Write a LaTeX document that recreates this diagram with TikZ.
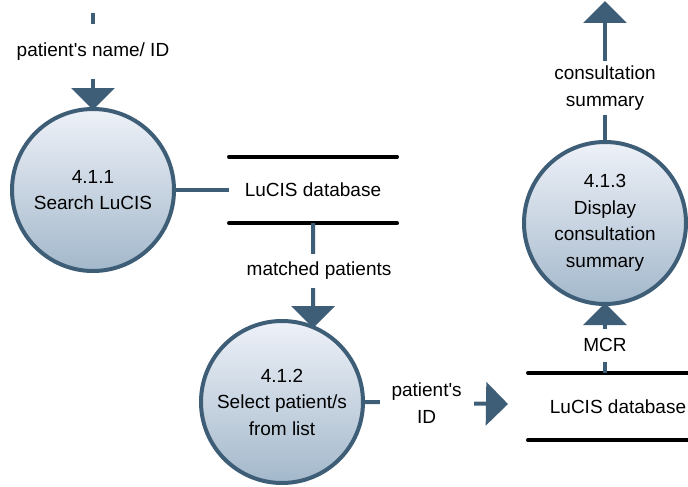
\documentclass[tikz,border=0pt]{standalone}
\usepackage{fontspec}
\setmainfont{Liberation Sans}
\usetikzlibrary{arrows.meta}

\definecolor{dfdline}{HTML}{3E5D76}
\definecolor{dfdtop}{HTML}{EEF1F8}
\definecolor{dfdbot}{HTML}{A3B8CB}

\begin{document}
\begin{tikzpicture}[x=1pt,y=-1pt,
    font=\fontsize{19}{26.5}\selectfont,
    process/.style={circle, draw=dfdline, line width=4pt, minimum size=162pt,
      top color=dfdtop, bottom color=dfdbot, align=center, inner sep=0pt},
    store/.style={minimum height=66pt, inner sep=0pt},
    storeline/.style={line width=3.5pt, line cap=round},
    flow/.style={draw=dfdline, line width=4pt, shorten >=-3pt,
      -{Triangle[width=43pt,length=22pt]}},
    link/.style={draw=dfdline, line width=4pt},
    flowlabel/.style={fill=white, align=center, inner xsep=12pt, inner ysep=8pt}
    ]

    \path[use as bounding box, clip] (0,0) rectangle (688,487);

    % processes
    \node[process] (p411) at (93,190) {4.1.1\\Search LuCIS};
    \node[process] (p412) at (282,402) {4.1.2\\Select patient/s\\from list};
    \node[process] (p413) at (605,223) {4.1.3\\Display\\consultation\\summary};

    % data stores
    \node[store, minimum width=168pt] (store1) at (313,190) {LuCIS database};
    \node[store, minimum width=180pt, minimum height=67pt] (store2) at (618,406.5) {LuCIS database};
    \foreach \s in {store1,store2}{
      \draw[storeline] (\s.north west) -- (\s.north east);
      \draw[storeline] (\s.south west) -- (\s.south east);
    }

    % free ends
    \coordinate (in) at (93,13);
    \coordinate (idend) at (505,404);
    \coordinate (out) at (605,4);

    % flows
    \draw[flow] (in) -- node[flowlabel, pos=0.41, inner ysep=19pt] {patient\textquotesingle s name/ ID} (p411.north);
    \draw[link] (p411.east) -- (store1.west);
    \draw[flow] (store1.south) -- node[flowlabel, pos=0.47, xshift=6pt] {matched patients} (p412.68);
    \draw[flow] (p412.east) -- node[flowlabel, pos=0.44, inner ysep=2pt] {patient\textquotesingle s\\ID} (idend);
    \draw[flow] (store2.north -| p413.south) -- node[flowlabel, pos=0.41, inner ysep=10pt] {MCR} (p413.south);
    \draw[flow] (p413.north) -- node[flowlabel, pos=0.38, inner ysep=5pt] {consultation\\summary} (out);
    %
\end{tikzpicture}
\end{document}
